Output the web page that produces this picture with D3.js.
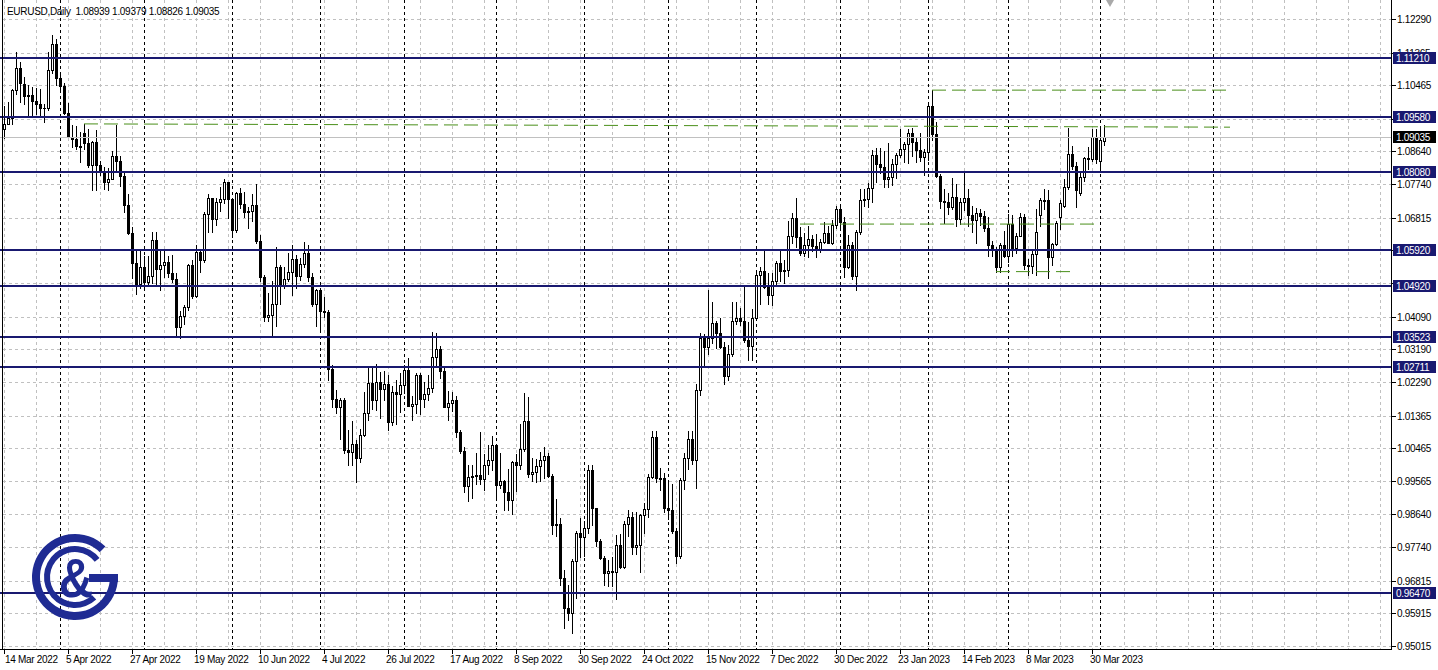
<!DOCTYPE html>
<html><head><meta charset="utf-8">
<script src="https://cdn.jsdelivr.net/npm/d3@7"></script>
<style>
html,body{margin:0;padding:0;background:#fff;overflow:hidden;}
svg{display:block;font-family:"Liberation Sans",Arial,sans-serif;}
</style></head><body>
<svg id="c" width="1438" height="670"></svg>
<script>
// ---------------- data ----------------
const symbolTitle = "EURUSD,Daily";
const lastBarText = ["1.08939","1.09379","1.08826","1.09035"];
const startDate = "2022-03-14";
const skipDates = ["2022-12-26"];

const open = [
1.0925,1.0941,1.0955,1.1033,1.1093,1.1050,1.1016,1.1020,1.1003,1.0996,
1.0985,1.0983,1.1088,1.1160,1.1067,1.1045,1.0970,1.0904,1.0899,1.0880,
1.0915,1.0888,1.0828,1.0889,1.0828,1.0808,1.0781,1.0788,1.0852,1.0837,
1.0796,1.0716,1.0640,1.0556,1.0500,1.0545,1.0505,1.0522,1.0619,1.0541,
1.0550,1.0559,1.0529,1.0513,1.0380,1.0410,1.0436,1.0552,1.0465,1.0587,
1.0564,1.0691,1.0735,1.0677,1.0724,1.0733,1.0780,1.0733,1.0648,1.0749,
1.0719,1.0697,1.0700,1.0716,1.0616,1.0519,1.0409,1.0413,1.0445,1.0546,
1.0496,1.0513,1.0532,1.0567,1.0522,1.0553,1.0584,1.0519,1.0443,1.0482,
1.0425,1.0422,1.0266,1.0182,1.0161,1.0180,1.0041,1.0036,1.0059,1.0019,
1.0084,1.0143,1.0226,1.0179,1.0228,1.0210,1.0223,1.0120,1.0202,1.0196,
1.0220,1.0262,1.0163,1.0169,1.0248,1.0182,1.0196,1.0211,1.0298,1.0319,
1.0259,1.0161,1.0170,1.0178,1.0090,1.0038,0.9943,0.9967,0.9971,0.9972,
0.9962,1.0000,1.0015,1.0054,0.9944,0.9955,0.9925,0.9904,1.0008,1.0001,
1.0044,1.0122,0.9975,0.9980,0.9998,1.0015,1.0024,0.9971,0.9834,0.9837,
0.9690,0.9607,0.9593,0.9737,0.9814,0.9802,0.9826,0.9986,0.9881,0.9792,
0.9744,0.9703,0.9709,0.9706,0.9780,0.9719,0.9837,0.9856,0.9775,0.9780,
0.9862,0.9878,0.9966,1.0078,0.9964,0.9965,0.9883,0.9875,0.9817,0.9750,
0.9960,1.0020,1.0072,1.0014,1.0208,1.0351,1.0325,1.0350,1.0392,1.0363,
1.0325,1.0245,1.0305,1.0397,1.0404,1.0397,1.0345,1.0328,1.0405,1.0523,
1.0534,1.0490,1.0468,1.0507,1.0556,1.0536,1.0538,1.0630,1.0682,1.0627,
1.0585,1.0605,1.0622,1.0604,1.0594,1.0615,1.0639,1.0613,1.0661,1.0705,
1.0669,1.0546,1.0605,1.0522,1.0643,1.0731,1.0734,1.0762,1.0854,1.0830,
1.0820,1.0788,1.0795,1.0830,1.0855,1.0870,1.0885,1.0914,1.0890,1.0868,
1.0849,1.0862,1.0990,1.0912,1.0796,1.0727,1.0726,1.0712,1.0738,1.0678,
1.0726,1.0736,1.0690,1.0675,1.0695,1.0685,1.0652,1.0605,1.0595,1.0546,
1.0607,1.0575,1.0665,1.0597,1.0632,1.0683,1.0550,1.0548,1.0582,1.0690,
1.0730,1.0731,1.0574,1.0610,1.0684,1.0714,1.0766,1.0857,1.0824,1.0750,
1.0794,1.0846,1.0842,1.0904,1.0838,1.08939];

const high = [
1.0990,1.1000,1.1037,1.1137,1.1111,1.1070,1.1046,1.1042,1.1038,1.1036,
1.0995,1.1138,1.1185,1.1175,1.1076,1.1053,1.0998,1.0936,1.0935,1.0919,
1.0940,1.0926,1.0894,1.0924,1.0838,1.0820,1.0818,1.0866,1.0936,1.0851,
1.0807,1.0747,1.0656,1.0593,1.0593,1.0576,1.0577,1.0641,1.0641,1.0591,
1.0592,1.0575,1.0578,1.0530,1.0424,1.0441,1.0555,1.0564,1.0606,1.0594,
1.0697,1.0748,1.0737,1.0735,1.0765,1.0787,1.0781,1.0737,1.0752,1.0764,
1.0753,1.0712,1.0748,1.0774,1.0635,1.0523,1.0473,1.0506,1.0601,1.0550,
1.0545,1.0583,1.0606,1.0580,1.0570,1.0615,1.0606,1.0530,1.0485,1.0486,
1.0463,1.0428,1.0276,1.0207,1.0186,1.0185,1.0096,1.0122,1.0069,1.0098,
1.0200,1.0268,1.0273,1.0278,1.0257,1.0258,1.0248,1.0219,1.0234,1.0254,
1.0275,1.0294,1.0189,1.0254,1.0253,1.0230,1.0249,1.0368,1.0364,1.0328,
1.0268,1.0203,1.0202,1.0191,1.0096,1.0050,0.9999,0.9999,1.0033,1.0090,
1.0030,1.0055,1.0079,1.0056,1.0034,0.9959,0.9990,1.0012,1.0030,1.0113,
1.0198,1.0187,1.0020,1.0018,1.0036,1.0051,1.0033,0.9976,0.9907,0.9853,
0.9710,0.9670,0.9740,0.9818,0.9853,0.9845,0.9999,0.9999,0.9882,0.9796,
0.9750,0.9738,0.9748,0.9807,0.9809,0.9847,0.9875,0.9871,0.9872,0.9865,
0.9895,0.9976,1.0094,1.0093,0.9993,0.9977,0.9954,0.9948,0.9827,0.9965,
1.0034,1.0095,1.0094,1.0222,1.0364,1.0360,1.0481,1.0448,1.0396,1.0406,
1.0338,1.0330,1.0448,1.0448,1.0434,1.0497,1.0395,1.0429,1.0533,1.0545,
1.0595,1.0529,1.0528,1.0562,1.0589,1.0564,1.0673,1.0695,1.0736,1.0655,
1.0639,1.0659,1.0634,1.0637,1.0624,1.0671,1.0660,1.0676,1.0713,1.0713,
1.0683,1.0633,1.0614,1.0648,1.0760,1.0760,1.0776,1.0868,1.0874,1.0874,
1.0866,1.0887,1.0844,1.0860,1.0927,1.0890,1.0925,1.0930,1.0900,1.0914,
1.0870,1.0998,1.1033,1.0945,1.0802,1.0760,1.0750,1.0792,1.0774,1.0737,
1.0805,1.0760,1.0715,1.0708,1.0705,1.0700,1.0683,1.0618,1.0601,1.0613,
1.0646,1.0692,1.0690,1.0640,1.0694,1.0693,1.0568,1.0590,1.0706,1.0736,
1.0760,1.0759,1.0612,1.0673,1.0730,1.0787,1.0930,1.0880,1.0835,1.0806,
1.0850,1.0875,1.0926,1.0925,1.0926,1.09379];

const low = [
1.0902,1.0940,1.0940,1.1021,1.1000,1.0995,1.0962,1.0960,1.0966,1.0961,
1.0945,1.0979,1.1080,1.1048,1.1028,1.0968,1.0904,1.0875,1.0870,1.0835,
1.0870,1.0822,1.0757,1.0758,1.0800,1.0761,1.0757,1.0787,1.0812,1.0768,
1.0698,1.0637,1.0515,1.0470,1.0488,1.0491,1.0493,1.0503,1.0493,1.0483,
1.0518,1.0518,1.0505,1.0354,1.0349,1.0389,1.0428,1.0459,1.0463,1.0531,
1.0559,1.0642,1.0642,1.0662,1.0701,1.0722,1.0680,1.0627,1.0641,1.0709,
1.0683,1.0653,1.0673,1.0612,1.0506,1.0398,1.0397,1.0359,1.0382,1.0444,
1.0489,1.0508,1.0469,1.0488,1.0510,1.0547,1.0508,1.0438,1.0383,1.0366,
1.0407,1.0235,1.0161,1.0144,1.0072,1.0033,0.9999,0.9999,0.9952,1.0008,
1.0080,1.0125,1.0154,1.0153,1.0131,1.0180,1.0097,1.0111,1.0113,1.0145,
1.0198,1.0162,1.0123,1.0144,1.0141,1.0160,1.0178,1.0202,1.0272,1.0241,
1.0159,1.0123,1.0148,1.0076,1.0034,0.9926,0.9901,0.9909,0.9947,0.9947,
0.9930,0.9976,0.9987,0.9911,0.9936,0.9877,0.9876,0.9864,0.9929,0.9990,
1.0040,0.9966,0.9955,0.9954,0.9955,0.9965,0.9968,0.9811,0.9805,0.9669,
0.9551,0.9574,0.9536,0.9635,0.9747,0.9750,0.9813,0.9836,0.9776,0.9741,
0.9669,0.9668,0.9668,0.9632,0.9716,0.9717,0.9805,0.9755,0.9755,0.9705,
0.9812,0.9858,0.9964,0.9953,0.9931,0.9871,0.9852,0.9814,0.9730,0.9745,
0.9934,0.9990,1.0002,0.9936,1.0194,1.0271,1.0305,1.0335,1.0323,1.0323,
1.0223,1.0235,1.0300,1.0390,1.0385,1.0339,1.0290,1.0289,1.0399,1.0443,
1.0487,1.0443,1.0442,1.0492,1.0508,1.0501,1.0520,1.0612,1.0600,1.0580,
1.0576,1.0572,1.0590,1.0574,1.0588,1.0612,1.0612,1.0610,1.0654,1.0650,
1.0519,1.0543,1.0513,1.0483,1.0636,1.0713,1.0710,1.0725,1.0781,1.0804,
1.0766,1.0766,1.0772,1.0790,1.0850,1.0835,1.0832,1.0851,1.0836,1.0838,
1.0800,1.0840,1.0896,1.0793,1.0707,1.0668,1.0693,1.0705,1.0658,1.0664,
1.0703,1.0658,1.0642,1.0612,1.0661,1.0644,1.0577,1.0577,1.0533,1.0533,
1.0573,1.0560,1.0576,1.0585,1.0630,1.0540,1.0525,1.0529,1.0525,1.0660,
1.0705,1.0516,1.0551,1.0605,1.0650,1.0711,1.0760,1.0815,1.0711,1.0745,
1.0784,1.0815,1.0838,1.0833,1.0813,1.08826];

const close = [
1.0941,1.0955,1.1033,1.1093,1.1052,1.1016,1.1020,1.1003,1.0996,1.0985,
1.0983,1.1088,1.1160,1.1067,1.1045,1.0970,1.0904,1.0899,1.0880,1.0876,
1.0888,1.0828,1.0889,1.0828,1.0808,1.0781,1.0788,1.0852,1.0837,1.0796,
1.0716,1.0640,1.0556,1.0500,1.0545,1.0505,1.0522,1.0619,1.0541,1.0550,
1.0559,1.0529,1.0513,1.0380,1.0410,1.0436,1.0552,1.0465,1.0587,1.0564,
1.0691,1.0735,1.0677,1.0724,1.0733,1.0780,1.0733,1.0648,1.0749,1.0719,
1.0697,1.0700,1.0716,1.0616,1.0519,1.0409,1.0413,1.0445,1.0546,1.0496,
1.0513,1.0532,1.0567,1.0522,1.0553,1.0584,1.0519,1.0443,1.0482,1.0425,
1.0422,1.0266,1.0182,1.0161,1.0180,1.0041,1.0036,1.0059,1.0019,1.0084,
1.0143,1.0226,1.0179,1.0228,1.0210,1.0223,1.0120,1.0202,1.0196,1.0220,
1.0262,1.0163,1.0169,1.0248,1.0182,1.0196,1.0211,1.0298,1.0319,1.0259,
1.0161,1.0170,1.0178,1.0090,1.0038,0.9943,0.9967,0.9971,0.9972,0.9962,
1.0000,1.0015,1.0054,0.9944,0.9955,0.9925,0.9904,1.0008,1.0001,1.0044,
1.0122,0.9975,0.9980,0.9998,1.0015,1.0024,0.9971,0.9834,0.9837,0.9690,
0.9607,0.9593,0.9737,0.9814,0.9802,0.9826,0.9986,0.9881,0.9792,0.9744,
0.9703,0.9709,0.9706,0.9780,0.9719,0.9837,0.9856,0.9775,0.9780,0.9862,
0.9878,0.9966,1.0078,0.9964,0.9965,0.9883,0.9875,0.9817,0.9750,0.9960,
1.0020,1.0072,1.0014,1.0208,1.0351,1.0325,1.0350,1.0392,1.0363,1.0325,
1.0245,1.0305,1.0397,1.0404,1.0397,1.0345,1.0328,1.0405,1.0523,1.0534,
1.0490,1.0468,1.0507,1.0556,1.0536,1.0538,1.0630,1.0682,1.0627,1.0585,
1.0605,1.0622,1.0604,1.0594,1.0615,1.0639,1.0613,1.0661,1.0705,1.0669,
1.0546,1.0605,1.0522,1.0643,1.0731,1.0734,1.0762,1.0854,1.0830,1.0820,
1.0788,1.0795,1.0830,1.0855,1.0870,1.0885,1.0914,1.0890,1.0868,1.0849,
1.0862,1.0990,1.0912,1.0796,1.0727,1.0726,1.0712,1.0738,1.0678,1.0726,
1.0736,1.0690,1.0675,1.0695,1.0685,1.0652,1.0605,1.0595,1.0546,1.0607,
1.0575,1.0665,1.0597,1.0632,1.0683,1.0550,1.0548,1.0582,1.0643,1.0730,
1.0731,1.0574,1.0610,1.0668,1.0722,1.0766,1.0857,1.0824,1.0758,1.0794,
1.0846,1.0842,1.0904,1.0843,1.0895,1.09035];

// grid prices (all) and the tick labels that are shown
const gridPrices = ["1.12290","1.11365","1.10465","1.09540","1.08640","1.07740","1.06815",
  "1.05915","1.05015","1.04090","1.03190","1.02290","1.01365","1.00465","0.99565",
  "0.98640","0.97740","0.96815","0.95915","0.95015"];
const priceTickLabels = ["1.12290","1.11365","1.10465","1.08640","1.07740","1.06815",
  "1.04090","1.03190","1.02290","1.01365","1.00465","0.99565",
  "0.98640","0.97740","0.96815","0.95915","0.95015"];
const levels = ["1.11210","1.09580","1.08080","1.05920","1.04920","1.03523","1.02711","0.96470"];
const currentPrice = "1.09035";
// trend lines: bar index start/end, price start/end
const trendStart = [20, 232, 199, 248];
const trendP1    = [1.0940, 1.1033, 1.0664, 1.0533];
const trendEnd   = [306.5, 306.5, 273.3, 268];
const trendP2    = [1.0931, 1.1033, 1.0664, 1.0533];
// vertical marker (bar index) drawn as dotted line beyond the last bar
const vMarkers = [302.25];

// ---------------- layout ----------------
const svg = d3.select("#c");
const axisX = 1391, axisY = 649;
const navy = "#191970", grid = "#c0c0c0", green = "#4a8f1a";
const n = close.length;

const parse = d3.timeParse("%Y-%m-%d"), fmtKey = d3.timeFormat("%Y-%m-%d");
const dates = [];
for (let d = parse(startDate); dates.length < n; d = d3.timeDay.offset(d, 1)) {
  const wd = d.getDay();
  if (wd !== 0 && wd !== 6 && !skipDates.includes(fmtKey(d))) dates.push(d);
}

const x = d3.scaleLinear().domain([0, 347]).range([4, 1392]);
const y = d3.scaleLinear().domain([0.95015, 1.12290]).range([646, 19]);
const px = i => Math.round(x(i));
const py = v => Math.round(y(+v));

svg.append("rect").attr("width",1438).attr("height",670).attr("fill","#fff");
const g = svg.append("g").attr("shape-rendering","crispEdges");

// horizontal grid
g.selectAll(".hg").data(gridPrices).join("line")
  .attr("x1",3).attr("x2",axisX).attr("y1",d=>py(d)+0.5).attr("y2",d=>py(d)+0.5)
  .attr("stroke",grid).attr("stroke-dasharray","3,3");

// vertical grid every 8 bars
const vIdx = d3.range(0, 348, 8).filter(i => x(i) < axisX - 1);
g.selectAll(".vg").data(vIdx).join("line")
  .attr("x1",i=>px(i)+0.5).attr("x2",i=>px(i)+0.5).attr("y1",0).attr("y2",axisY)
  .attr("stroke",grid).attr("stroke-dasharray","3,3");

// month separators + marker
const sepIdx = d3.range(1, n).filter(i => dates[i].getMonth() !== dates[i-1].getMonth()).concat(vMarkers);
g.selectAll(".sep").data(sepIdx).join("line")
  .attr("x1",i=>px(i)+0.5).attr("x2",i=>px(i)+0.5).attr("y1",0).attr("y2",axisY)
  .attr("stroke","#000").attr("stroke-dasharray","3,3");

// candles
const idx = d3.range(n);
const cg = g.append("g");
cg.selectAll(".wick").data(idx).join("line")
  .attr("x1",i=>px(i)+0.5).attr("x2",i=>px(i)+0.5)
  .attr("y1",i=>py(high[i])).attr("y2",i=>py(low[i])+1)
  .attr("stroke","#000");
cg.selectAll(".body").data(idx).join("rect")
  .each(function(i){
    const c = px(i);
    const top = py(Math.max(open[i], close[i])), bot = py(Math.min(open[i], close[i]));
    const s = d3.select(this);
    if (close[i] > open[i]) {
      s.attr("x", c-0.5).attr("y", top+0.5).attr("width",2).attr("height",Math.max(bot-top,1))
       .attr("fill","#fff").attr("stroke","#000");
    } else {
      s.attr("x", c-1).attr("y", top).attr("width",3).attr("height",Math.max(bot-top+1,1))
       .attr("fill","#000");
    }
  });

// current price line
g.append("line").attr("x1",0).attr("x2",axisX).attr("y1",py(currentPrice)+0.5).attr("y2",py(currentPrice)+0.5)
  .attr("stroke","#c0c0c0");

// level lines
g.selectAll(".lvl").data(levels).join("line")
  .attr("x1",0).attr("x2",axisX).attr("y1",d=>py(d)).attr("y2",d=>py(d))
  .attr("stroke",navy).attr("stroke-width",2);

// trend lines
g.selectAll(".tl").data(d3.range(trendStart.length)).join("line")
  .attr("x1",k=>x(trendStart[k])).attr("y1",k=>y(trendP1[k]))
  .attr("x2",k=>x(trendEnd[k])).attr("y2",k=>y(trendP2[k]))
  .attr("stroke",green).attr("stroke-dasharray","14,6").attr("shape-rendering","auto");

// axes lines
g.append("line").attr("x1",axisX+0.5).attr("x2",axisX+0.5).attr("y1",0).attr("y2",axisY+1).attr("stroke","#000");
g.append("line").attr("x1",0).attr("x2",axisX+1).attr("y1",axisY+0.5).attr("y2",axisY+0.5).attr("stroke","#000");
g.append("line").attr("x1",2.5).attr("x2",2.5).attr("y1",0).attr("y2",axisY).attr("stroke","#000");

// right axis ticks + labels
g.selectAll(".rt").data(gridPrices).join("line")
  .attr("x1",axisX).attr("x2",axisX+5).attr("y1",d=>py(d)+0.5).attr("y2",d=>py(d)+0.5).attr("stroke","#000");
svg.selectAll(".rl").data(priceTickLabels).join("text")
  .attr("x",axisX+6).attr("y",d=>py(d)+4)
  .attr("font-size",10).attr("letter-spacing","-0.3").attr("fill","#000").text(d=>d);

// level labels
const lbl = svg.append("g");
function priceBox(val, bg) {
  const yy = py(val);
  lbl.append("rect").attr("x",axisX+2).attr("y",yy-6).attr("width",43).attr("height",12).attr("fill",bg)
    .attr("shape-rendering","crispEdges");
  lbl.append("text").attr("x",axisX+5).attr("y",yy+4).attr("font-size",10).attr("letter-spacing","-0.3")
    .attr("fill","#fff").text(val);
}
levels.forEach(v => priceBox(v, navy));
priceBox(currentPrice, "#000");

// bottom axis labels every 16 bars
const dIdx = d3.range(0, n, 16);
const fmt = d3.timeFormat("%-d %b %Y");
g.selectAll(".bt").data(dIdx).join("line")
  .attr("x1",i=>px(i)+0.5).attr("x2",i=>px(i)+0.5).attr("y1",axisY).attr("y2",axisY+5).attr("stroke","#000");
svg.selectAll(".bl").data(dIdx).join("text")
  .attr("x",i=>Math.max(px(i)-2, 5)).attr("y",663)
  .attr("font-size",10).attr("letter-spacing","-0.3").attr("fill","#000").text(i=>fmt(dates[i]));

// header
svg.append("text").attr("x",7).attr("y",15).attr("font-size",10).attr("letter-spacing","-0.3")
  .attr("fill","#000").style("white-space","pre")
  .text(symbolTitle + "  " + lastBarText.join(" "));

// shift marker
svg.append("path").attr("d","M1106,0 L1114,0 L1110,7 Z").attr("fill","#a9a9a9");

// logo
const logoC = "#1f2b93";
const logo = svg.append("g").attr("transform","translate(75,577)");
logo.append("path").attr("fill",logoC)
  .attr("d", d3.arc().innerRadius(35).outerRadius(43).startAngle(Math.PI/2).endAngle(2*Math.PI+Math.PI/4)());
logo.append("rect").attr("x",14).attr("y",-3).attr("width",29).attr("height",8).attr("fill",logoC);
logo.append("path").attr("fill",logoC)
  .attr("d", d3.arc().innerRadius(25).outerRadius(31).startAngle(Math.PI*0.76).endAngle(2*Math.PI+Math.PI*0.29)());
logo.append("text").attr("x",1).attr("y",20).attr("text-anchor","middle")
  .attr("font-family","'Liberation Sans',Arial,sans-serif").attr("font-weight","bold")
  .attr("font-size",56).attr("fill",logoC).attr("transform","scale(0.85,1)").text("&");
</script>
</body></html>
